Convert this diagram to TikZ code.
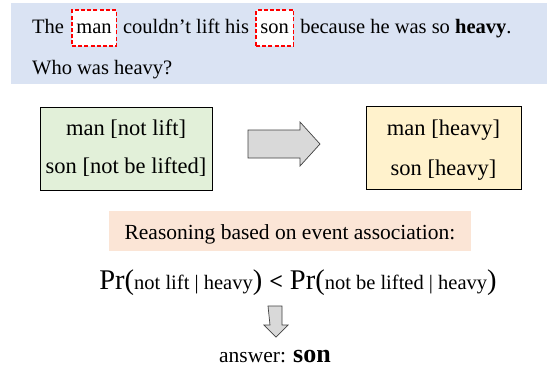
\documentclass[tikz,border=0pt]{standalone}
\usepackage{fontspec}
\setmainfont{Liberation Serif}
\definecolor{bandblue}{HTML}{DAE3F3}
\definecolor{boxgreen}{HTML}{E2F0D9}
\definecolor{boxyellow}{HTML}{FFF2CC}
\definecolor{bandorange}{HTML}{FBE5D6}
\definecolor{arrowgray}{HTML}{D9D9D9}
\begin{document}
\begin{tikzpicture}[x=1pt,y=-1pt,
  txt/.style={inner sep=0pt, font=\fontsize{21.5}{26}\selectfont},
  qtxt/.style={inner sep=0pt, font=\fontsize{20.5}{25}\selectfont},
  wordbox/.style={qtxt, draw=red, line width=1.3pt, dash pattern=on 4pt off 2.2pt,
    fill=white, inner xsep=4.5pt, text height=23pt, text depth=13pt},
  eventbox/.style={draw=black, line width=0.8pt, minimum height=83pt},
  fatarrow/.style={draw=black!75, line width=0.7pt, fill=arrowgray, line join=miter}]
\useasboundingbox (0,0) rectangle (547,368);

% question band
\fill[bandblue] (11,3) rectangle (547,84);
\node[qtxt, anchor=base west] (w1) at (32,33) {The};
\node[wordbox, anchor=base west] (man) at ([xshift=7pt]w1.base east) {man};
\node[qtxt, anchor=base west] (w2) at ([xshift=6pt]man.base east) {couldn’t lift his};
\node[wordbox, anchor=base west] (son) at ([xshift=6pt]w2.base east) {son};
\node[qtxt, anchor=base west] (w3) at ([xshift=6pt]son.base east) {because he was so \textbf{heavy}.};
\node[qtxt, anchor=base west] (q) at (32,74) {Who was heavy?};

% event boxes
\node[eventbox, fill=boxgreen, minimum width=172pt] (ev1) at (126,148.5) {};
\node[txt, anchor=base, font=\fontsize{22.5}{27}\selectfont] (ev1a) at (126,135) {man [not lift]};
\node[txt, anchor=base, font=\fontsize{22.5}{27}\selectfont] (ev1b) at (126,173) {son [not be lifted]};
\node[eventbox, fill=boxyellow, minimum width=155pt] (ev2) at (443.5,148) {};
\node[txt, anchor=base, font=\fontsize{22.5}{27}\selectfont] (ev2a) at (443.5,135) {man [heavy]};
\node[txt, anchor=base, font=\fontsize{22.5}{27}\selectfont] (ev2b) at (443.5,175) {son [heavy]};

% block arrow between the boxes
\draw[fatarrow] (248,130) -- (300,130) -- (300,122) -- (320,144) -- (300,166)
  -- (300,158) -- (248,158) -- cycle;

% reasoning band
\node[fill=bandorange, minimum width=362pt, minimum height=40pt] (rb) at (290,231) {};
\node[txt, anchor=base] (rt) at (290,239) {Reasoning based on event association:};

% probability comparison
\node[inner sep=0pt, anchor=base] (pr) at (298,289) {%
  {\fontsize{28.5}{34}\selectfont Pr(}{\fontsize{20.5}{25}\selectfont not lift | heavy}{\fontsize{28.5}{34}\selectfont )}%
  \hspace{7pt}{\fontsize{24}{28}\selectfont\textbf{<}}\hspace{7pt}%
  {\fontsize{28.5}{34}\selectfont Pr(}{\fontsize{20.5}{25}\selectfont not be lifted | heavy}{\fontsize{28.5}{34}\selectfont )}};

% downward block arrow
\draw[fatarrow] (268,306) -- (282,306) -- (282,325) -- (288,325) -- (276,337)
  -- (264,325) -- (270,325) -- cycle;

% answer
\node[inner sep=0pt, anchor=base] (ans) at (275,362) {%
  {\fontsize{21.5}{26}\selectfont answer: }{\fontsize{26}{30}\selectfont\textbf{son}}};
\end{tikzpicture}
\end{document}
